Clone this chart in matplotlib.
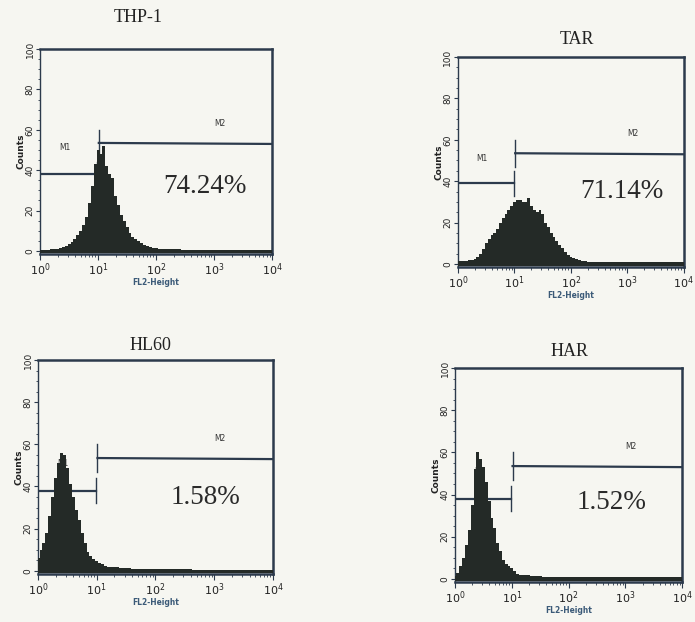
import numpy as np
import matplotlib
matplotlib.use("Agg")
import matplotlib.pyplot as plt
from matplotlib.ticker import FixedLocator, MultipleLocator, LogLocator, NullFormatter

# histogram channels, log10 of FL2 intensity (0.05 decade per bin)
log_bins = np.arange(0, 4.0001, 0.05)

thp1_counts = [0.5, 0.5, 0.5, 0.5, 0.8, 1, 1.2, 1.5, 2, 2.5,
               3.5, 4.5, 6, 8, 10, 13, 17, 24, 32, 43,
               50, 48, 52, 42, 38, 36, 27, 23, 18, 15,
               12, 9, 7, 6, 5, 4, 3, 2.5, 2, 1.6,
               1.3, 1.1, 1, 1, 0.9, 0.9, 0.8, 0.8, 0.8, 0.7,
               0.7, 0.6, 0.6, 0.6, 0.6, 0.5, 0.5, 0.5, 0.5, 0.5,
               0.5, 0.5, 0.5, 0.5, 0.5, 0.5, 0.5, 0.5, 0.5, 0.5,
               0.5, 0.5, 0.5, 0.5, 0.5, 0.5, 0.5, 0.5, 0.5, 0.5, 0.5]

tar_counts = [1.5, 1.5, 1.5, 1.5, 2, 2, 2.5, 3.5, 5, 7,
              10, 12, 14, 15, 17, 20, 22, 24, 26, 28,
              30, 31, 31, 30, 30, 32, 28, 26, 25, 26,
              24, 20, 18, 15, 13, 11, 9, 7.5, 6, 4.5,
              3.5, 3, 2.5, 2, 1.5, 1.2, 1, 1, 1, 1,
              1, 1, 1, 1, 1, 1, 1, 1, 1, 1,
              1, 1, 1, 1, 1, 1, 1, 1, 1, 1,
              1, 1, 1, 1, 1, 1, 1, 1, 1, 1, 1]

hl60_counts = [6, 10, 13, 18, 26, 35, 44, 51, 56, 55,
               49, 41, 35, 29, 24, 18, 13, 9, 7, 5.5,
               4.5, 3.5, 3, 2.5, 2, 2, 1.8, 1.6, 1.5, 1.4,
               1.3, 1.2, 1.1, 1, 1, 1, 1, 1, 0.9, 0.9,
               0.9, 0.9, 0.8, 0.8, 0.8, 0.8, 0.8, 0.7, 0.7, 0.7,
               0.7, 0.7, 0.7, 0.6, 0.6, 0.6, 0.6, 0.6, 0.6, 0.6,
               0.6, 0.6, 0.6, 0.6, 0.6, 0.6, 0.6, 0.6, 0.6, 0.6,
               0.6, 0.6, 0.6, 0.6, 0.6, 0.6, 0.6, 0.6, 0.6, 0.6, 0.6]

har_counts = [1.5, 3, 6, 10, 16, 23, 35, 52, 60, 57,
              53, 46, 37, 29, 24, 17, 13, 9, 7, 6,
              5, 3.5, 2.5, 2, 2, 1.8, 1.6, 1.5, 1.4, 1.3,
              1.2, 1.1, 1, 1, 1, 1, 1, 1, 1, 1,
              1, 1, 1, 1, 1, 1, 1, 1, 1, 1,
              1, 1, 1, 1, 1, 1, 1, 1, 1, 1,
              1, 1, 1, 1, 1, 1, 1, 1, 1, 1,
              1, 1, 1, 1, 1, 1, 1, 1, 1, 1, 1]

titles = ["THP-1", "TAR", "HL60", "HAR"]
percents = ["74.24%", "71.14%", "1.58%", "1.52%"]
all_counts = [thp1_counts, tar_counts, hl60_counts, har_counts]

# gate levels (M1 / M2 bars) and marker cut at 10^1
m1_level = [38, 39, 38, 38]
m2_level = [53, 53, 53, 53]
gate_cut = 10.0

# axes rectangles [left, bottom, width, height] in figure fractions
boxes = [
    [0.0576, 0.5916, 0.3340, 0.3296],
    [0.6590, 0.5707, 0.3250, 0.3376],
    [0.0547, 0.0772, 0.3380, 0.3440],
    [0.6547, 0.0643, 0.3270, 0.3440],
]
title_xy = [(138, 18), (577, 40), (150, 345), (570, 352)]
pct_xy = [(10 ** 2.84, 32), (10 ** 2.91, 35), (10 ** 2.86, 35), (10 ** 2.76, 36)]

paper = "#f6f6f1"
frame = "#2c3a4c"
ink = "#242a27"

fig = plt.figure(figsize=(6.95, 6.22), dpi=100, facecolor=paper)

for i in range(4):
    ax = fig.add_axes(boxes[i])
    ax.set_facecolor(paper)
    x = 10 ** log_bins

    ax.fill_between(x, all_counts[i], -1, step="mid", color=ink, lw=0, zorder=3)

    # gate markers
    ax.plot([1, gate_cut * 0.97], [m1_level[i], m1_level[i]], color=frame, lw=1.6, zorder=2)
    ax.plot([gate_cut * 0.97] * 2, [m1_level[i] - 6, m1_level[i] + 6], color=frame, lw=1.0, zorder=2)
    ax.plot([gate_cut * 1.03, 1e4], [m2_level[i] + 0.5, m2_level[i]], color=frame, lw=1.6, zorder=2)
    ax.plot([gate_cut * 1.03] * 2, [m2_level[i] - 6, m2_level[i] + 7], color=frame, lw=1.0, zorder=2)
    ax.text(10 ** 0.43, m2_level[i] - 2, "M1", fontsize=6, color="#333",
            ha="center", va="center", fontstretch="condensed", zorder=1)
    ax.text(10 ** 3.1, m2_level[i] + 10, "M2", fontsize=6, color="#333",
            ha="center", va="center", fontstretch="condensed", zorder=1)

    ax.text(pct_xy[i][0], pct_xy[i][1], percents[i], fontsize=19.5,
            family="Liberation Serif", color="#2a2a2a", ha="center", va="center")

    ax.set_xscale("log")
    ax.set_xlim(1, 1e4)
    ax.set_ylim(-1.5, 100)

    ax.xaxis.set_major_locator(FixedLocator([1, 10, 100, 1000, 10000]))
    ax.xaxis.set_minor_locator(LogLocator(base=10, subs=np.arange(2, 10)))
    ax.xaxis.set_minor_formatter(NullFormatter())
    ax.yaxis.set_major_locator(MultipleLocator(20))
    ax.yaxis.set_minor_locator(MultipleLocator(5))

    ax.tick_params(axis="x", which="major", length=4, width=0.8, color=frame,
                   labelsize=8, pad=1, labelcolor="#222")
    ax.tick_params(axis="x", which="minor", length=2.5, width=0.6, color=frame)
    ax.tick_params(axis="y", which="major", length=3, width=0.8, color=frame,
                   labelsize=6.5, pad=1, labelrotation=90, labelcolor="#222")
    ax.tick_params(axis="y", which="minor", length=1.5, width=0.6, color=frame)
    for lab in ax.get_yticklabels():
        lab.set_va("center")

    for side in ["left", "bottom"]:
        ax.spines[side].set_color(frame)
        ax.spines[side].set_linewidth(1.0)
    for side in ["top", "right"]:
        ax.spines[side].set_color(frame)
        ax.spines[side].set_linewidth(1.8)
    ax.spines["bottom"].set_linewidth(1.8)

    ax.set_ylabel("Counts", fontsize=6.5, fontweight="bold", labelpad=0, color="#222")
    ax.set_xlabel("FL2-Height", fontsize=6, fontweight="bold", labelpad=0,
                  color="#3b5a78", fontstretch="condensed")

    fig.text(title_xy[i][0] / 695, 1 - title_xy[i][1] / 622, titles[i],
             fontsize=13, family="Liberation Serif", color="#222",
             ha="center", va="center")

fig.savefig("out.png", dpi=100, facecolor=paper)
